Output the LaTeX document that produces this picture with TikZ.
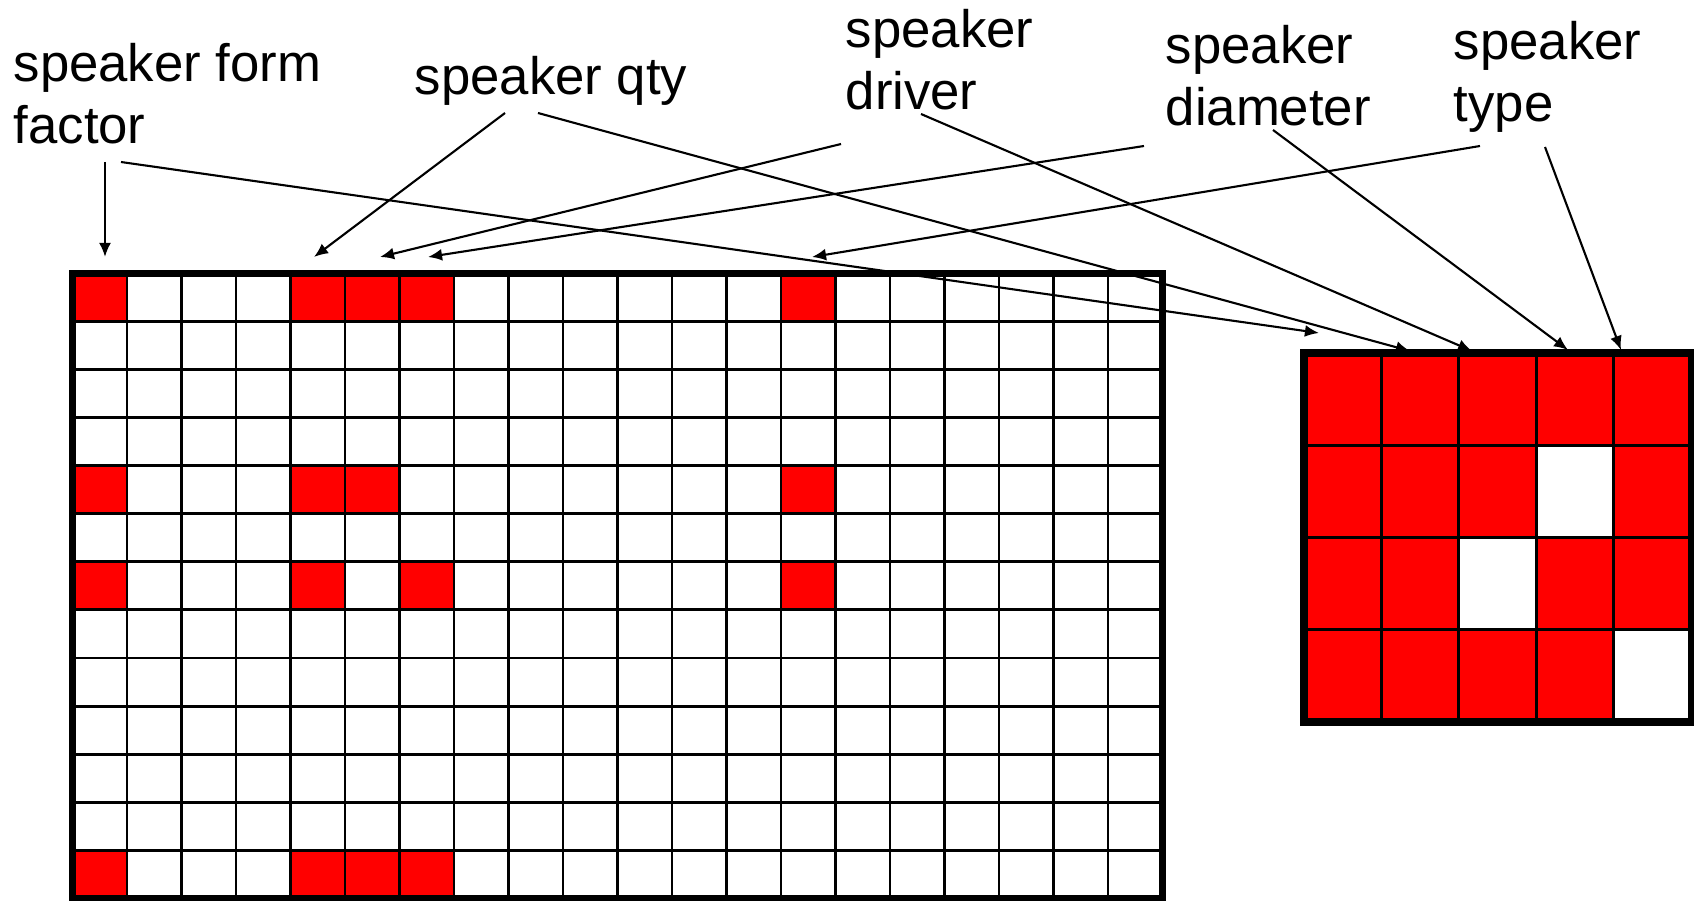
\documentclass[tikz,border=0pt]{standalone}
\usepackage{fontspec}
\setmainfont{Liberation Sans}
\usetikzlibrary{arrows.meta}

\definecolor{zellrot}{RGB}{255,0,0}

\tikzset{
	zelle/.style={fill=zellrot},
	gitter/.style={line width=0.8pt, draw=black},
	rahmen/.style={line width=2pt, draw=black},
	pfeil/.style={line width=0.6pt, -{Latex[length=4pt,width=3.4pt]}},
	beschr/.style={anchor=base west, inner sep=0pt, align=left,
		font=\fontsize{15}{17.9}\selectfont},
}

\begin{document}
\begin{tikzpicture}
	\useasboundingbox (0,0) rectangle (16.94,9);
	% Raster links: rote Zellen
	\foreach \c/\r in {0/0,4/0,5/0,6/0,13/0,0/4,4/4,5/4,13/4,0/6,4/6,6/6,13/6,0/12,4/12,5/12,6/12}
		\fill[zelle] (0.725+\c*0.545, 6.268-\r*0.481) rectangle ++(0.545,-0.481);
	% Gitterlinien links
	\foreach \x in {1,...,19}
		\draw[gitter] (0.725+\x*0.545, 0.015) -- (0.725+\x*0.545, 6.268);
	\foreach \y in {1,...,12}
		\draw[gitter] (0.725, 0.015+\y*0.481) -- (11.625, 0.015+\y*0.481);
	\draw[rahmen] (0.725,0.015) rectangle (11.625,6.268);

	% Raster rechts
	\fill[zelle] (13.04,1.78) rectangle (16.91,5.47);
	\foreach \c/\r in {3/1,2/2,4/3}
		\fill[white] (13.04+\c*0.774, 5.47-\r*0.9225) rectangle ++(0.774,-0.9225);
	\foreach \x in {1,...,4}
		\draw[gitter] (13.04+\x*0.774, 1.78) -- (13.04+\x*0.774, 5.47);
	\foreach \y in {1,...,3}
		\draw[gitter] (13.04, 1.78+\y*0.9225) -- (16.91, 1.78+\y*0.9225);
	\draw[rahmen] (13.04,1.78) rectangle (16.91,5.47);

	% Beschriftungen (Grundlinie der letzten Zeile)
	\node[beschr] (formfaktor) at (0.13,7.56) {speaker form\\factor};
	\node[beschr] (anzahl) at (4.14,8.05) {speaker qty};
	\node[beschr] (treiber) at (8.45,7.90) {speaker\\driver};
	\node[beschr] (durchm) at (11.65,7.74) {speaker\\diameter};
	\node[beschr] (typ) at (14.53,7.78) {speaker\\type};

	% Pfeilenden
	\coordinate (ff-a) at (1.05,7.38);
	\coordinate (ff-b) at (1.05,6.43);
	\coordinate (ff-c) at (1.21,7.38);
	\coordinate (ff-d) at (13.19,5.67);
	\coordinate (qty-a) at (5.05,7.87);
	\coordinate (qty-b) at (3.14,6.43);
	\coordinate (qty-c) at (5.38,7.87);
	\coordinate (qty-d) at (14.10,5.49);
	\coordinate (drv-a) at (8.41,7.56);
	\coordinate (drv-b) at (3.80,6.43);
	\coordinate (drv-c) at (9.21,7.86);
	\coordinate (drv-d) at (14.72,5.49);
	\coordinate (dia-a) at (11.44,7.54);
	\coordinate (dia-b) at (4.28,6.43);
	\coordinate (dia-c) at (12.73,7.70);
	\coordinate (dia-d) at (15.68,5.50);
	\coordinate (typ-a) at (14.80,7.54);
	\coordinate (typ-b) at (8.12,6.43);
	\coordinate (typ-c) at (15.45,7.53);
	\coordinate (typ-d) at (16.21,5.50);

	% Pfeile
	\draw[pfeil] (ff-a) -- (ff-b);
	\draw[pfeil] (ff-c) -- (ff-d);
	\draw[pfeil] (qty-a) -- (qty-b);
	\draw[pfeil] (qty-c) -- (qty-d);
	\draw[pfeil] (drv-a) -- (drv-b);
	\draw[pfeil] (drv-c) -- (drv-d);
	\draw[pfeil] (dia-a) -- (dia-b);
	\draw[pfeil] (dia-c) -- (dia-d);
	\draw[pfeil] (typ-a) -- (typ-b);
	\draw[pfeil] (typ-c) -- (typ-d);
\end{tikzpicture}
\end{document}
